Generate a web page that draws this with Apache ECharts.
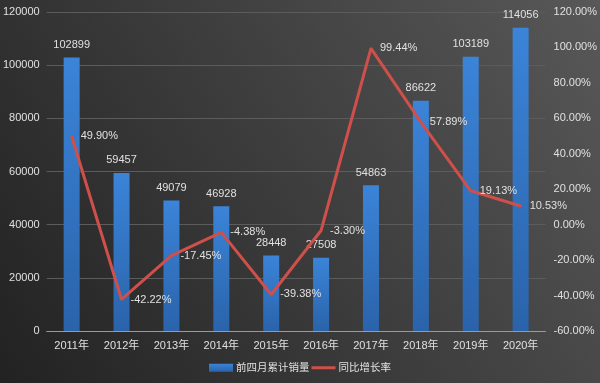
<!DOCTYPE html>
<html>
<head>
<meta charset="utf-8">
<script src="https://cdn.jsdelivr.net/npm/echarts@6/dist/echarts.min.js"></script>
<style>html,body{margin:0;padding:0;}#c{width:600px;height:383px;}</style>
</head>
<body>
<div id="c"></div>
<script>
const categories = ['2011年','2012年','2013年','2014年','2015年','2016年','2017年','2018年','2019年','2020年'];
const salesValues = [102899, 59457, 49079, 46928, 28448, 27508, 54863, 86622, 103189, 114056];
const growthValues = [49.90, -42.22, -17.45, -4.38, -39.38, -3.30, 99.44, 57.89, 19.13, 10.53];
const barName = '前四月累计销量';
const lineName = '同比增长率';

const font = '"Liberation Sans","Noto Sans CJK SC",sans-serif';
const txt = '#e0e0e0';
const red = '#cf4f4a';
const chart = echarts.init(document.getElementById('c'));
chart.setOption({
  animation: false,
  backgroundColor: {type:'linear', x:0, y:1, x2:1, y2:0, colorStops:[{offset:0,color:'#222222'},{offset:1,color:'#585858'}]},
  textStyle: {fontFamily: font},
  grid: {left: 46, right: 51, top: 12, bottom: 52},
  legend: {
    bottom: 5, left: 'center', itemWidth: 24, itemHeight: 8, itemGap: 2,
    textStyle: {color: txt, fontSize: 10.5, fontFamily: font, padding: [0, 0, 0, -2]},
    data: [{name: barName, icon: 'rect'},
           {name: lineName, icon: 'path://M0,0 L24,0 L24,3 L0,3 Z', itemStyle: {color: red, opacity: 1, borderWidth: 0}}]
  },
  xAxis: {
    type: 'category', data: categories,
    axisLine: {lineStyle: {color: '#9a9a9a', width: 1}},
    axisTick: {show: false},
    axisLabel: {color: txt, fontSize: 11, margin: 9}
  },
  yAxis: [
    {type:'value', min:0, max:120000, interval:20000,
     axisLabel:{color: txt, fontSize: 11, margin: 7, formatter: v => String(v)},
     axisLine:{show:false}, axisTick:{show:false},
     splitLine:{lineStyle:{color:'#5c5c5c', width:1}}},
    {type:'value', min:-60, max:120, interval:20,
     axisLabel:{color: txt, fontSize: 11, margin: 8, formatter: v => v.toFixed(2) + '%'},
     axisLine:{show:false}, axisTick:{show:false}, splitLine:{show:false}}
  ],
  series: [
    {name: barName, type:'bar', data: salesValues, barWidth: 16,
     itemStyle:{color:{type:'linear',x:0,y:0,x2:0,y2:1,colorStops:[{offset:0,color:'#3b84d8'},{offset:1,color:'#2a63aa'}]}},
     label:{show:true, position:'top', distance:7, color: txt, fontSize: 11}},
    {name: lineName, type:'line', yAxisIndex:1, data: growthValues,
     symbol:'circle', symbolSize: 2, showSymbol: true,
     lineStyle:{color: red, width:3}, itemStyle:{color: red, borderWidth: 0},
     label:{show:true, position:'right', distance:8, color: txt, fontSize: 11, formatter: p => p.value.toFixed(2) + '%'},
     z: 5}
  ]
});
</script>
</body>
</html>
